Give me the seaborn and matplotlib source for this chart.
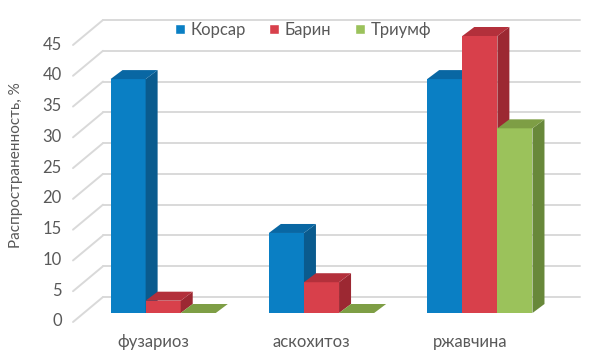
import numpy as np
import pandas as pd
import matplotlib
matplotlib.use('Agg')
import matplotlib.pyplot as plt
import matplotlib.transforms as mtransforms
from matplotlib.patches import Polygon
from matplotlib.lines import Line2D
import seaborn as sns

# данные
diseases = ['фузариоз', 'аскохитоз', 'ржавчина']
varieties = ['Корсар', 'Барин', 'Триумф']
korsar = [38, 13, 38]
barin = [2, 5, 45]
triumf = [0, 0, 30]
yticks = [0, 5, 10, 15, 20, 25, 30, 35, 40, 45]

front_colors = ['#0a7fc4', '#d8404b', '#9bc25b']
side_colors = ['#0a5b8e', '#9c2832', '#68883a']
top_colors = ['#0967a3', '#b3303b', '#7e9e45']
gray = '#595959'

df = pd.DataFrame({
    'болезнь': diseases * 3,
    'сорт': np.repeat(varieties, 3),
    'value': korsar + barin + triumf,
})

sns.set_style('white')
plt.rcParams['font.family'] = ['Lato', 'DejaVu Sans']

fig = plt.figure(figsize=(5.96, 3.64), dpi=100)
ax = fig.add_axes([84 / 596, 51 / 364, 475 / 596, 277 / 364])
sns.barplot(data=df, x='болезнь', y='value', hue='сорт', palette=front_colors,
            saturation=1, width=0.665, ax=ax)
ax.set_xlim(-0.5, 2.5)
ax.set_ylim(0, 45)
sns.despine(ax=ax, left=True, bottom=True)
ax.set_xlabel('')

# объём столбцов (псевдо-3D как в Excel)
dx, dy = 12, 9  # пиксели
rects = []
for i, cont in enumerate(ax.containers):
    for r in cont:
        rects.append((r.get_x(), i, r))
rects.sort(key=lambda t: t[0])
for k, (_, i, r) in enumerate(rects):
    z = 3 + k * 0.1
    r.set_zorder(z)
    r.set_linewidth(0)
    (x0, y0), (x1, y1) = ax.transData.transform(
        [[r.get_x(), 0], [r.get_x() + r.get_width(), r.get_height()]])
    side = Polygon([[x1, y0], [x1 + dx, y0 + dy], [x1 + dx, y1 + dy], [x1, y1]],
                   closed=True, facecolor=side_colors[i], lw=0,
                   transform=mtransforms.IdentityTransform(), clip_on=False, zorder=z)
    top = Polygon([[x0, y1], [x1, y1], [x1 + dx, y1 + dy], [x0 + dx, y1 + dy]],
                  closed=True, facecolor=top_colors[i], lw=0,
                  transform=mtransforms.IdentityTransform(), clip_on=False, zorder=z)
    ax.add_patch(side)
    ax.add_patch(top)

# задняя стенка и боковые линии сетки
for v in yticks:
    y = ax.transData.transform((0, v))[1]
    back = Line2D([103, 580], [y + 16, y + 16], color='#d9d9d9', lw=1.4,
                  transform=mtransforms.IdentityTransform(), clip_on=False, zorder=1)
    diag = Line2D([73, 103], [y - 9, y + 16], color='#d9d9d9', lw=1.4,
                  transform=mtransforms.IdentityTransform(), clip_on=False, zorder=1)
    ax.add_line(back)
    ax.add_line(diag)

ax.set_yticks(yticks)
ax.tick_params(axis='y', length=0, pad=16, labelsize=12, labelcolor=gray)
ax.tick_params(axis='x', length=0, pad=15, labelsize=12, labelcolor=gray)
for lab in ax.get_yticklabels():
    lab.set_transform(lab.get_transform() + mtransforms.ScaledTranslation(0, -7 / 100, fig.dpi_scale_trans))
for lab in ax.get_xticklabels():
    lab.set_transform(lab.get_transform() + mtransforms.ScaledTranslation(-10 / 100, 0, fig.dpi_scale_trans))

ax.set_ylabel('Распространенность, %', fontsize=11, color=gray)
ax.yaxis.set_label_coords(-0.128, 0.534)

handles, labels = ax.get_legend_handles_labels()
ax.legend(handles, labels, loc='center', bbox_to_anchor=(303 / 596, 334 / 364),
          bbox_transform=fig.transFigure, ncol=3, frameon=False, fontsize=12,
          labelcolor=gray, handlelength=0.6, handleheight=0.6, handletextpad=0.35,
          columnspacing=1.4, title=None)

fig.savefig('out.png', dpi=100)
